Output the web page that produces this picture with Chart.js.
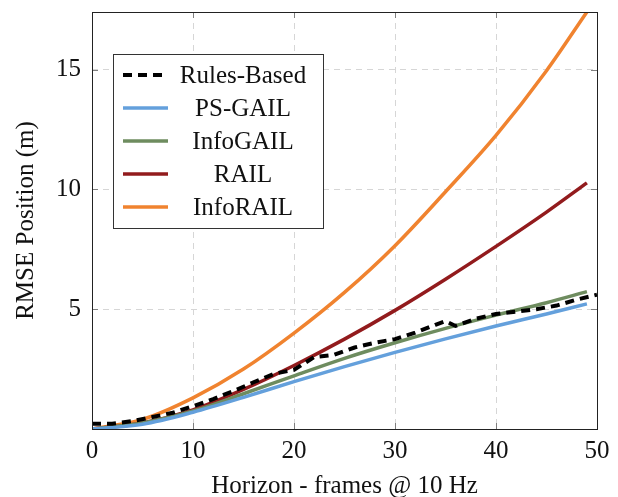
<!DOCTYPE html>
<html>
<head>
<meta charset="utf-8">
<script src="https://cdn.jsdelivr.net/npm/chart.js@4/dist/chart.umd.min.js"></script>
<style>
  html, body { margin: 0; padding: 0; background: #ffffff; }
  #wrap { width: 618px; height: 497px; position: relative; }
</style>
</head>
<body>
<div id="wrap"><canvas id="rmseChart"></canvas></div>
<script>
// horizon frames where the learned policies were sampled
const horizon = [0, 5, 10, 15, 20, 25, 30, 35, 40, 45, 49];
const psGail   = [0.0, 0.2, 0.7, 1.32, 1.98, 2.6, 3.2, 3.76, 4.3, 4.8, 5.22];
const infoGail = [0.0, 0.25, 0.75, 1.47, 2.22, 2.95, 3.6, 4.2, 4.75, 5.27, 5.73];
const rail     = [0.0, 0.25, 0.8, 1.65, 2.65, 3.75, 4.95, 6.25, 7.62, 9.05, 10.27];
const infoRail = [0.0, 0.4, 1.3, 2.5, 4.0, 5.7, 7.65, 9.9, 12.25, 14.95, 17.4];

// rules-based baseline is noisier, so more samples
const rulesX     = [0, 2, 4, 6, 8, 10, 12, 14, 16, 18, 20, 22, 24, 26, 28, 30, 32, 34, 35, 36, 38, 40, 42, 44, 46, 48, 50];
const rulesBased = [0.22, 0.22, 0.33, 0.5, 0.68, 0.95, 1.25, 1.58, 1.95, 2.3, 2.47, 3.0, 3.1, 3.4, 3.6, 3.75, 4.02, 4.35, 4.5, 4.3, 4.6, 4.8, 4.9, 5.0, 5.15, 5.4, 5.6];

const xTicks = [0, 10, 20, 30, 40, 50];
const yTicks = [5, 10, 15];

const serif = 'Liberation Serif';

function toPoints(xs, ys) {
    return xs.map((x, i) => ({ x: x, y: ys[i] }));
}

// box around plot area + little inner tick marks (pgfplots look)
const framePlugin = {
    id: 'frame',
    afterDatasetsDraw(chart) {
        const { ctx, chartArea: a, scales } = chart;
        ctx.save();
        ctx.strokeStyle = '#7f7f7f';
        ctx.lineWidth = 1;
        const len = 6;
        ctx.beginPath();
        xTicks.forEach(v => {
            const px = Math.round(scales.x.getPixelForValue(v)) + 0.5;
            ctx.moveTo(px, a.bottom); ctx.lineTo(px, a.bottom - len);
            ctx.moveTo(px, a.top); ctx.lineTo(px, a.top + len);
        });
        yTicks.forEach(v => {
            const py = Math.round(scales.y.getPixelForValue(v)) + 0.5;
            ctx.moveTo(a.left, py); ctx.lineTo(a.left + len, py);
            ctx.moveTo(a.right, py); ctx.lineTo(a.right - len, py);
        });
        ctx.stroke();
        ctx.strokeStyle = '#222222';
        ctx.strokeRect(Math.round(a.left) + 0.5, Math.round(a.top) + 0.5,
            Math.round(a.right - a.left), Math.round(a.bottom - a.top));
        ctx.restore();
    }
};

// legend box drawn by hand so the labels can be centred like the original
const legendPlugin = {
    id: 'boxLegend',
    afterDraw(chart) {
        const ctx = chart.ctx;
        const box = { x: 113.5, y: 54.5, w: 210, h: 174 };
        ctx.save();
        ctx.fillStyle = '#ffffff';
        ctx.fillRect(box.x, box.y, box.w, box.h);
        ctx.strokeStyle = '#333333';
        ctx.lineWidth = 1;
        ctx.strokeRect(box.x, box.y, box.w, box.h);
        ctx.font = '25px "' + serif + '"';
        ctx.textAlign = 'center';
        ctx.textBaseline = 'middle';
        chart.data.datasets.forEach((ds, i) => {
            const y = 75 + i * 33;
            ctx.beginPath();
            ctx.strokeStyle = ds.borderColor;
            ctx.lineWidth = ds.borderWidth;
            ctx.setLineDash(ds.borderDash || []);
            ctx.moveTo(123, y);
            ctx.lineTo(168, y);
            ctx.stroke();
            ctx.setLineDash([]);
            ctx.fillStyle = '#111111';
            ctx.fillText(ds.label, 243, y + 1);
        });
        ctx.restore();
    }
};

const ctx = document.getElementById('rmseChart').getContext('2d');

new Chart(ctx, {
    type: 'line',
    data: {
        datasets: [
            {
                label: 'Rules-Based',
                data: toPoints(rulesX, rulesBased),
                borderColor: '#000000',
                borderWidth: 4,
                borderDash: [9, 6],
                tension: 0
            },
            {
                label: 'PS-GAIL',
                data: toPoints(horizon, psGail),
                borderColor: '#64a0dc',
                borderWidth: 3.5,
                cubicInterpolationMode: 'monotone'
            },
            {
                label: 'InfoGAIL',
                data: toPoints(horizon, infoGail),
                borderColor: '#6e8c5f',
                borderWidth: 3.5,
                cubicInterpolationMode: 'monotone'
            },
            {
                label: 'RAIL',
                data: toPoints(horizon, rail),
                borderColor: '#921b1d',
                borderWidth: 3.5,
                cubicInterpolationMode: 'monotone'
            },
            {
                label: 'InfoRAIL',
                data: toPoints(horizon, infoRail),
                borderColor: '#f0832f',
                borderWidth: 3.5,
                cubicInterpolationMode: 'monotone'
            }
        ]
    },
    options: {
        responsive: true,
        maintainAspectRatio: false,
        animation: false,
        layout: { padding: { top: 12, right: 21, left: 0, bottom: 0 } },
        elements: { point: { radius: 0 } },
        plugins: {
            legend: { display: false },
            tooltip: { enabled: false }
        },
        scales: {
            x: {
                type: 'linear',
                min: 0,
                max: 50,
                afterBuildTicks: axis => { axis.ticks = xTicks.map(v => ({ value: v })); },
                afterFit: scale => {
                    scale.height = 68;
                    scale.paddingLeft = 0;
                    scale.paddingRight = 0;
                },
                grid: { color: '#d6d6d6', lineWidth: 1, drawTicks: false },
                border: { display: false, dash: [6, 5] },
                ticks: {
                    color: '#111111',
                    padding: 7,
                    maxRotation: 0,
                    font: { family: serif, size: 25 }
                },
                title: {
                    display: true,
                    text: 'Horizon - frames @ 10 Hz',
                    color: '#111111',
                    padding: { top: 0, bottom: -2 },
                    font: { family: serif, size: 25, lineHeight: 1.0 }
                }
            },
            y: {
                type: 'linear',
                min: 0,
                max: 17.4,
                afterBuildTicks: axis => { axis.ticks = yTicks.map(v => ({ value: v })); },
                afterFit: scale => {
                    scale.width = 92;
                    scale.paddingTop = 0;
                    scale.paddingBottom = 0;
                },
                grid: { color: '#d6d6d6', lineWidth: 1, drawTicks: false },
                border: { display: false, dash: [6, 5] },
                ticks: {
                    color: '#111111',
                    padding: 11,
                    font: { family: serif, size: 25 }
                },
                title: {
                    display: true,
                    text: 'RMSE Position (m)',
                    color: '#111111',
                    padding: { top: 11, bottom: 0 },
                    font: { family: serif, size: 25 }
                }
            }
        }
    },
    plugins: [framePlugin, legendPlugin]
});
</script>
</body>
</html>
